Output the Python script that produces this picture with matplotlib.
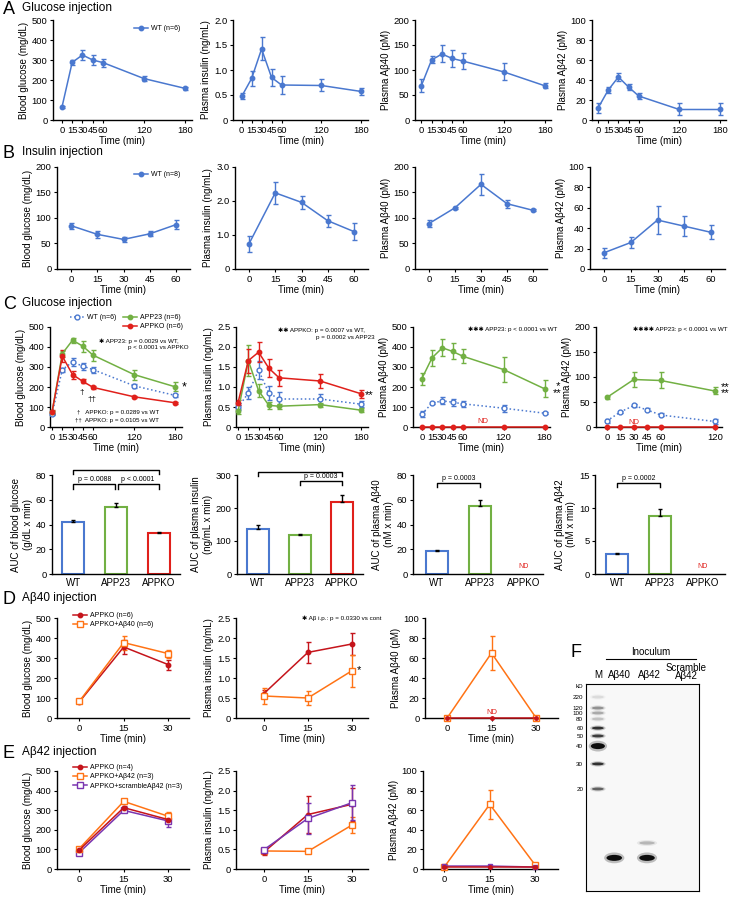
import numpy as np
import matplotlib
matplotlib.use('Agg')
import matplotlib.pyplot as plt
from matplotlib.lines import Line2D
from matplotlib.patches import Ellipse

plt.rcParams['font.family'] = ['Liberation Sans', 'DejaVu Sans']

# ---------------- data ----------------
t_a = [0, 15, 30, 45, 60, 120, 180]
a_glc = [63, 288, 325, 300, 287, 207, 158]
a_glc_err = [5, 12, 25, 25, 20, 12, 8]
a_ins = [0.47, 0.83, 1.42, 0.85, 0.70, 0.69, 0.57]
a_ins_err = [0.06, 0.15, 0.23, 0.17, 0.18, 0.12, 0.07]
a_ab40 = [68, 120, 132, 123, 118, 96, 68]
a_ab40_err = [13, 7, 17, 17, 16, 17, 5]
a_ab42 = [12, 30, 43, 33, 24, 10.5, 10.5]
a_ab42_err = [5, 3, 4, 3, 3, 6, 6]

t_b = [0, 15, 30, 45, 60]
b_glc = [85, 68, 58, 69, 87]
b_glc_err = [6, 7, 5, 5, 9]
b_ins = [0.74, 2.24, 1.96, 1.42, 1.10]
b_ins_err = [0.23, 0.32, 0.20, 0.18, 0.25]
b_ab40 = [89, 120, 166, 128, 115]
b_ab40_err = [7, 2, 20, 8, 2]
b_ab42 = [16, 26, 48, 42, 36]
b_ab42_err = [5, 5, 14, 10, 7]

t_c = [0, 15, 30, 45, 60, 120, 180]
c_glc_wt = [65, 287, 325, 304, 287, 206, 158]
c_glc_wt_err = [5, 10, 22, 18, 15, 10, 8]
c_glc_app23 = [74, 367, 434, 404, 359, 262, 201]
c_glc_app23_err = [8, 15, 12, 28, 28, 25, 22]
c_glc_ko = [75, 354, 262, 228, 198, 151, 121]
c_glc_ko_err = [8, 30, 20, 10, 6, 5, 4]
c_ins_wt = [0.49, 0.85, 1.42, 0.85, 0.70, 0.70, 0.57]
c_ins_wt_err = [0.06, 0.15, 0.23, 0.17, 0.18, 0.12, 0.07]
c_ins_app23 = [0.39, 1.66, 0.91, 0.54, 0.52, 0.56, 0.42]
c_ins_app23_err = [0.07, 0.38, 0.16, 0.09, 0.06, 0.05, 0.05]
c_ins_ko = [0.61, 1.66, 1.87, 1.47, 1.23, 1.15, 0.83]
c_ins_ko_err = [0.07, 0.30, 0.25, 0.22, 0.20, 0.18, 0.10]
c_ab40_wt = [65, 119, 131, 124, 116, 94, 69]
c_ab40_wt_err = [13, 6, 17, 17, 16, 17, 5]
c_ab40_app23 = [242, 346, 396, 378, 354, 287, 191]
c_ab40_app23_err = [30, 40, 42, 40, 35, 62, 42]
c_ab40_ko = [0, 0, 0, 0, 0, 0, 0]
t_c4 = [0, 15, 30, 45, 60, 120]
t_c4_app23 = [0, 30, 60, 120]
c_ab42_wt = [12, 30, 43, 34, 24, 11]
c_ab42_wt_err = [4, 2, 3, 3, 3, 5]
c_ab42_app23 = [59, 95, 93, 72]
c_ab42_app23_err = [3, 15, 16, 7]
c_ab42_ko = [0, 0, 0, 0, 0, 0]

groups = ['WT', 'APP23', 'APPKO']
auc_glc = [42, 54, 33]
auc_glc_err = [2, 3, 1]
auc_ins = [135, 117, 219]
auc_ins_err = [12, 5, 20]
auc_ab40 = [18.5, 55]          # APPKO: ND
auc_ab40_err = [0.8, 5]
auc_ab42 = [3.0, 8.8]          # APPKO: ND
auc_ab42_err = [0.15, 1.0]

t_d = [0, 15, 30]
d_glc_ko = [80, 355, 267]
d_glc_ko_err = [5, 35, 25]
d_glc_ab = [83, 377, 322]
d_glc_ab_err = [5, 35, 20]
d_ins_ko = [0.61, 1.64, 1.85]
d_ins_ko_err = [0.10, 0.26, 0.27]
d_ins_ab = [0.55, 0.50, 1.18]
d_ins_ab_err = [0.20, 0.17, 0.40]
d_ab40_ko = [0, 0, 0]
d_ab40_ab = [0, 65, 0.5]
d_ab40_ab_err = [0, 17, 0]

e_glc_ko = [97, 313, 252]
e_glc_ko_err = [5, 10, 15]
e_glc_ab = [104, 345, 269]
e_glc_ab_err = [5, 10, 20]
e_glc_scr = [84, 299, 245]
e_glc_scr_err = [5, 10, 30]
e_ins_ko = [0.43, 1.39, 1.65]
e_ins_ko_err = [0.07, 0.48, 0.42]
e_ins_ab = [0.46, 0.45, 1.12]
e_ins_ab_err = [0.03, 0.02, 0.20]
e_ins_scr = [0.49, 1.29, 1.69]
e_ins_scr_err = [0.03, 0.40, 0.45]
e_ab42_ko = [2, 2, 2]
e_ab42_ab = [2, 66, 4]
e_ab42_ab_err = [1, 15, 2]
e_ab42_scr = [3, 3, 2]

# gel (F)
marker_kd = [220, 120, 100, 80, 60, 50, 40, 30, 20]
marker_pos = [6.3, 11.6, 14.0, 16.9, 21.3, 25.1, 30.0, 38.6, 50.7]
marker_int = [0.15, 0.45, 0.35, 0.25, 0.85, 0.80, 1.0, 0.85, 0.65]
lane_names = ['M', 'Aβ40', 'Aβ42', 'Scramble\nAβ42']
lane_x = [0.42, 1.0, 2.16, 3.3]
sample_lane = [1, 2, 2]
sample_pos = [84, 84, 76.8]
sample_int = [1.0, 1.0, 0.3]

BLUE = '#4a78cf'
GREEN = '#72b043'
RED = '#e0201b'
DRED = '#c5141b'
ORANGE = '#ff7315'
PURPLE = '#7a35b0'

W, H = 730, 897
fig = plt.figure(figsize=(7.3, 8.97), dpi=100)


def add_ax(l, t, r, b):
    return fig.add_axes([l / W, 1 - b / H, (r - l) / W, (b - t) / H])


def ftext(x, y, s, **kw):
    fig.text(x / W, 1 - y / H, s, **kw)


def style(ax, xlim, ylim, xticks, yticks, ylabel, ylabels=None, xlabel='Time (min)'):
    for s in ['top', 'right']:
        ax.spines[s].set_visible(False)
    for s in ['left', 'bottom']:
        ax.spines[s].set_linewidth(1.0)
    ax.set_xlim(xlim)
    ax.set_ylim(ylim)
    ax.set_xticks(xticks)
    ax.set_yticks(yticks)
    if ylabels is not None:
        ax.set_yticklabels(ylabels)
    ax.tick_params(length=2.5, width=0.8, labelsize=6.8, pad=1.5)
    ax.set_xlabel(xlabel, fontsize=7, labelpad=1)
    ax.set_ylabel(ylabel, fontsize=7, labelpad=2)


def series(ax, t, y, err, color, marker='o', ls='-', mfc=None, ms=3.2, z=3):
    c = ax.errorbar(t, y, yerr=err, color=color, marker=marker, ls=ls, lw=1.1,
                    ms=ms, mfc=mfc if mfc else color, mec=color, mew=1,
                    capsize=1.8, capthick=1, elinewidth=1, zorder=z)
    c[0].set_clip_on(False)
    for a in c[1]:
        a.set_clip_on(False)
    for a in c[2]:
        a.set_clip_on(False)


def legend(handles, x, y, ncol=1):
    fig.legend(handles=handles, loc='upper left', bbox_to_anchor=(x / W, 1 - y / H),
               frameon=False, fontsize=5, handlelength=2, handletextpad=0.4,
               borderaxespad=0, borderpad=0, labelspacing=0.35, columnspacing=1.0,
               ncol=ncol)


def h(color, marker='o', ls='-', mfc=None, ms=3.2, label=''):
    return Line2D([], [], color=color, marker=marker, ls=ls, lw=1.1, ms=ms,
                  mfc=mfc if mfc else color, mec=color, mew=1, label=label)


def bars(ax, vals, errs, colors):
    x = np.arange(len(vals))
    ax.bar(x, vals, width=0.52, facecolor='white', edgecolor=colors, linewidth=1.5, zorder=2)
    ax.errorbar(x, vals, yerr=[np.zeros(len(vals)), errs], fmt='none', ecolor='black',
                capsize=1.5, capthick=1, elinewidth=1, zorder=3)


def bracket(ax, x1, x2, y, leg, text):
    ax.plot([x1, x1, x2, x2], [y - leg, y, y, y - leg], color='black', lw=1, clip_on=False)
    ax.annotate(text, ((x1 + x2) / 2, y), xytext=(0, 1), textcoords='offset points',
                ha='center', va='bottom', fontsize=5)


ins_ticks = [0, 0.5, 1.0, 1.5, 2.0, 2.5]
ins_labels = ['0', '0.5', '1.0', '1.5', '2.0', '2.5']

# ---------------- panel titles ----------------
for letter, title, y in [('A', 'Glucose injection', 9), ('B', 'Insulin injection', 153),
                         ('C', 'Glucose injection', 304), ('D', 'Aβ40 injection', 599),
                         ('E', 'Aβ42 injection', 753)]:
    ftext(3, y, letter, fontsize=13, va='center')
    ftext(22, y - 1, title, fontsize=8.5, va='center')
ftext(571, 652, 'F', fontsize=13, va='center')

# ---------------- A ----------------
ax = add_ax(53, 20, 192, 120)
series(ax, t_a, a_glc, a_glc_err, BLUE)
style(ax, (-13, 190), (0, 500), t_a, range(0, 501, 100), 'Blood glucose (mg/dL)')
legend([h(BLUE, label='WT (n=6)')], 134, 25)

ax = add_ax(233, 20, 368, 120)
series(ax, t_a, a_ins, a_ins_err, BLUE)
style(ax, (-13, 190), (0, 2.0), t_a, ins_ticks[:5], 'Plasma insulin (ng/mL)', ins_labels[:5])

ax = add_ax(415, 20, 551, 120)
series(ax, t_a, a_ab40, a_ab40_err, BLUE)
style(ax, (-9, 188), (0, 200), t_a, range(0, 201, 50), 'Plasma Aβ40 (pM)')

ax = add_ax(592, 20, 726, 120)
series(ax, t_a, a_ab42, a_ab42_err, BLUE)
style(ax, (-9, 189), (0, 100), t_a, range(0, 101, 20), 'Plasma Aβ42 (pM)')

# ---------------- B ----------------
ax = add_ax(57, 167, 190, 269)
series(ax, t_b, b_glc, b_glc_err, BLUE)
style(ax, (-8, 68), (0, 200), t_b, range(0, 201, 50), 'Blood glucose (mg/dL)')
legend([h(BLUE, label='WT (n=8)')], 134, 171)

ax = add_ax(235, 167, 368, 269)
series(ax, t_b, b_ins, b_ins_err, BLUE)
style(ax, (-8, 68), (0, 3.0), t_b, [0, 1.0, 2.0, 3.0], 'Plasma insulin (ng/mL)',
      ['0', '1.0', '2.0', '3.0'])

ax = add_ax(415, 167, 547, 269)
series(ax, t_b, b_ab40, b_ab40_err, BLUE)
style(ax, (-8, 68), (0, 200), t_b, range(0, 201, 50), 'Plasma Aβ40 (pM)')

ax = add_ax(590, 167, 725, 269)
series(ax, t_b, b_ab42, b_ab42_err, BLUE)
style(ax, (-8, 68), (0, 100), t_b, range(0, 101, 20), 'Plasma Aβ42 (pM)')

# ---------------- C time courses ----------------
ax = add_ax(50, 327, 182, 427)
series(ax, t_c, c_glc_wt, c_glc_wt_err, BLUE, ls=':', mfc='white', ms=3.5)
series(ax, t_c, c_glc_app23, c_glc_app23_err, GREEN)
series(ax, t_c, c_glc_ko, c_glc_ko_err, RED)
style(ax, (-3, 190), (0, 500), t_c, range(0, 501, 100), 'Blood glucose (mg/dL)')
ax.text(1.0, 0.4, '*', transform=ax.transAxes, fontsize=9, va='center', ha='left')
blank = Line2D([], [], ls='none', label=' ')
legend([h(BLUE, ls=':', mfc='white', ms=3.5, label='WT (n=6)'), blank,
        h(GREEN, label='APP23 (n=6)'), h(RED, label='APPKO (n=6)')], 70, 314, ncol=2)
ftext(99, 341, '✱ APP23: p = 0.0029 vs WT,', fontsize=4.5, va='center')
ftext(128, 348, 'p < 0.0001 vs APPKO', fontsize=4.5, va='center')
ftext(82, 392, '†', fontsize=6, va='center', ha='center')
ftext(92, 399, '††', fontsize=6, va='center', ha='center')
ftext(77, 412, '†   APPKO: p = 0.0289 vs WT', fontsize=4.5, va='center')
ftext(75, 420, '††  APPKO: p = 0.0105 vs WT', fontsize=4.5, va='center')

ax = add_ax(236, 327, 368, 427)
series(ax, t_c, c_ins_wt, c_ins_wt_err, BLUE, ls=':', mfc='white', ms=3.5)
series(ax, t_c, c_ins_app23, c_ins_app23_err, GREEN)
series(ax, t_c, c_ins_ko, c_ins_ko_err, RED)
style(ax, (-3, 190), (0, 2.5), t_c, ins_ticks, 'Plasma insulin (ng/mL)', ins_labels)
ftext(365, 395, '**', fontsize=8, va='center', ha='left')
ftext(278, 330, '✱✱ APPKO: p = 0.0007 vs WT,', fontsize=4.5, va='center')
ftext(316, 337, 'p = 0.0002 vs APP23', fontsize=4.5, va='center')

ax = add_ax(413, 327, 550, 427)
series(ax, t_c, c_ab40_wt, c_ab40_wt_err, BLUE, ls=':', mfc='white', ms=3.5)
series(ax, t_c, c_ab40_app23, c_ab40_app23_err, GREEN)
series(ax, t_c, c_ab40_ko, None, RED, z=4)
style(ax, (-13, 188), (0, 500), t_c, range(0, 501, 100), 'Plasma Aβ40 (pM)')
ax.text(90, 8, 'ND', color=RED, fontsize=5.5, ha='center', va='bottom')
ftext(553, 390, ' *\n**', fontsize=8, va='center', ha='left', linespacing=0.6)
ftext(468, 329, '✱✱✱ APP23: p < 0.0001 vs WT', fontsize=4.5, va='center')

ax = add_ax(596, 327, 722, 427)
series(ax, t_c4, c_ab42_wt, c_ab42_wt_err, BLUE, ls=':', mfc='white', ms=3.5)
series(ax, t_c4_app23, c_ab42_app23, c_ab42_app23_err, GREEN)
series(ax, t_c4, c_ab42_ko, None, RED, z=4)
style(ax, (-12, 128), (0, 200), t_c4, range(0, 201, 50), 'Plasma Aβ42 (pM)')
ax.text(30, 3, 'ND', color=RED, fontsize=5.5, ha='center', va='bottom')
ftext(721, 390, '**\n**', fontsize=8, va='center', ha='left', linespacing=0.6)
ftext(633, 329, '✱✱✱✱ APP23: p < 0.0001 vs WT', fontsize=4.5, va='center')

# ---------------- C AUC bars ----------------
bar_colors = [BLUE, GREEN, RED]

ax = add_ax(52, 475, 180, 574)
bars(ax, auc_glc, auc_glc_err, bar_colors)
style(ax, (-0.5, 2.5), (0, 80), range(3), range(0, 81, 20),
      'AUC of blood glucose\n(g/dL x min)', xlabel='')
ax.set_xticklabels(groups, fontsize=7)
ax.tick_params(axis='x', length=0, pad=3)
bracket(ax, 0, 2, 84, 3.5, 'p = 0.0368')
bracket(ax, 0, 0.98, 72.5, 3.5, 'p = 0.0088')
bracket(ax, 1.04, 2, 72.5, 3.5, 'p < 0.0001')

ax = add_ax(237, 475, 363, 574)
bars(ax, auc_ins, auc_ins_err, bar_colors)
style(ax, (-0.5, 2.5), (0, 300), range(3), range(0, 301, 100),
      'AUC of plasma insulin\n(ng/mL x min)', xlabel='')
ax.set_xticklabels(groups, fontsize=7)
ax.tick_params(axis='x', length=0, pad=3)
bracket(ax, 0, 2, 309, 13, 'p = 0.0016')
bracket(ax, 1, 2, 282, 13, 'p = 0.0003')

ax = add_ax(413, 475, 543, 574)
bars(ax, auc_ab40, auc_ab40_err, bar_colors[:2])
style(ax, (-0.55, 2.45), (0, 80), range(3), range(0, 81, 20),
      'AUC of plasma Aβ40\n(nM x min)', xlabel='')
ax.set_xticklabels(groups, fontsize=7)
ax.tick_params(axis='x', length=0, pad=3)
ax.text(2, 3, 'ND', color=RED, fontsize=5, ha='center', va='bottom')
bracket(ax, 0, 1, 73.5, 3.5, 'p = 0.0003')

ax = add_ax(595, 475, 725, 574)
bars(ax, auc_ab42, auc_ab42_err, bar_colors[:2])
style(ax, (-0.52, 2.52), (0, 15), range(3), range(0, 16, 5),
      'AUC of plasma Aβ42\n(nM x min)', xlabel='')
ax.set_xticklabels(groups, fontsize=7)
ax.tick_params(axis='x', length=0, pad=3)
ax.text(2, 0.6, 'ND', color=RED, fontsize=5, ha='center', va='bottom')
bracket(ax, 0, 1, 13.8, 0.65, 'p = 0.0002')

# ---------------- D ----------------
ax = add_ax(57, 618, 189, 718)
series(ax, t_d, d_glc_ko, d_glc_ko_err, DRED)
series(ax, t_d, d_glc_ab, d_glc_ab_err, ORANGE, marker='s', mfc='white', ms=4.5)
style(ax, (-7.5, 37), (0, 500), t_d, range(0, 501, 100), 'Blood glucose (mg/dL)')
legend([h(DRED, label='APPKO (n=6)'),
        h(ORANGE, marker='s', mfc='white', ms=4, label='APPKO+Aβ40 (n=6)')], 73, 612)

ax = add_ax(236, 618, 368, 718)
series(ax, t_d, d_ins_ko, d_ins_ko_err, DRED)
series(ax, t_d, d_ins_ab, d_ins_ab_err, ORANGE, marker='s', mfc='white', ms=4.5)
style(ax, (-9.5, 35.5), (0, 2.5), t_d, ins_ticks, 'Plasma insulin (ng/mL)', ins_labels)
ftext(357, 670, '*', fontsize=8, va='center', ha='left')
ftext(302, 618, '✱ Aβ i.p.: p = 0.0330 vs cont', fontsize=4.5, va='center')

ax = add_ax(425, 618, 558, 718)
series(ax, t_d, d_ab40_ab, d_ab40_ab_err, ORANGE, marker='s', mfc='white', ms=5)
series(ax, t_d, d_ab40_ko, None, DRED, ms=2.5, z=4)
style(ax, (-7.5, 37.5), (0, 100), t_d, range(0, 101, 20), 'Plasma Aβ40 (pM)')
ax.text(15, 2, 'ND', color=RED, fontsize=5.5, ha='center', va='bottom')

# ---------------- E ----------------
ax = add_ax(57, 771, 189, 869)
series(ax, t_d, e_glc_scr, e_glc_scr_err, PURPLE, marker='s', mfc='white', ms=4)
series(ax, t_d, e_glc_ab, e_glc_ab_err, ORANGE, marker='s', mfc='white', ms=4.5)
series(ax, t_d, e_glc_ko, e_glc_ko_err, DRED)
style(ax, (-7.5, 37), (0, 500), t_d, range(0, 501, 100), 'Blood glucose (mg/dL)')
legend([h(DRED, label='APPKO (n=4)'),
        h(ORANGE, marker='s', mfc='white', ms=4, label='APPKO+Aβ42 (n=3)'),
        h(PURPLE, marker='s', mfc='white', ms=4, label='APPKO+scrambleAβ42 (n=3)')], 73, 764)

ax = add_ax(236, 771, 368, 869)
series(ax, t_d, e_ins_ab, e_ins_ab_err, ORANGE, marker='s', mfc='white', ms=4.5)
series(ax, t_d, e_ins_ko, e_ins_ko_err, DRED)
series(ax, t_d, e_ins_scr, e_ins_scr_err, PURPLE, marker='s', mfc='white', ms=4)
style(ax, (-9.5, 35.5), (0, 2.5), t_d, ins_ticks, 'Plasma insulin (ng/mL)', ins_labels)

ax = add_ax(423, 771, 558, 869)
series(ax, t_d, e_ab42_ab, e_ab42_ab_err, ORANGE, marker='s', mfc='white', ms=5)
series(ax, t_d, e_ab42_scr, None, PURPLE, marker='s', ms=3.5, z=4)
series(ax, t_d, e_ab42_ko, None, DRED, ms=2.5, z=5)
style(ax, (-7, 37.5), (0, 100), t_d, range(0, 101, 20), 'Plasma Aβ42 (pM)')

# ---------------- F gel ----------------
gx = add_ax(586, 684, 699, 891)
gx.set_facecolor('#f8f8f8')
gx.set_xlim(0, 4)
gx.set_ylim(100, 0)
gx.set_xticks([])
gx.set_yticks(marker_pos)
gx.set_yticklabels([str(k) for k in marker_kd])
gx.tick_params(axis='y', length=0, labelsize=4.5, pad=2)
for s in gx.spines.values():
    s.set_linewidth(0.8)
gx.text(-0.08, 1.4, 'kD', fontsize=4.5, ha='right', va='center')


def band(x, y, w, hh, inten):
    g = 1 - 0.95 * inten
    gx.add_patch(Ellipse((x, y), w * 1.3, hh * 1.8, color=(g, g, g), alpha=0.25, lw=0))
    gx.add_patch(Ellipse((x, y), w, hh, color=(g, g, g), lw=0))


for kd, pos, inten in zip(marker_kd, marker_pos, marker_int):
    band(lane_x[0], pos, 0.42 if kd != 40 else 0.5, 1.4 if kd != 40 else 2.9, inten)
for ln, pos, inten in zip(sample_lane, sample_pos, sample_int):
    band(lane_x[ln], pos, 0.55, 2.9 if inten > 0.5 else 1.6, inten)

for name, x in zip(lane_names, [598, 619, 649, 686]):
    ftext(x, 675 if '\n' not in name else 672, name, fontsize=7, ha='center', va='center',
          linespacing=0.85)
ftext(651, 652, 'Inoculum', fontsize=7, ha='center', va='center')
fig.add_artist(Line2D([606 / W, 696 / W], [1 - 659 / H, 1 - 659 / H], color='black', lw=0.8))

fig.savefig('out.png', dpi=100)
